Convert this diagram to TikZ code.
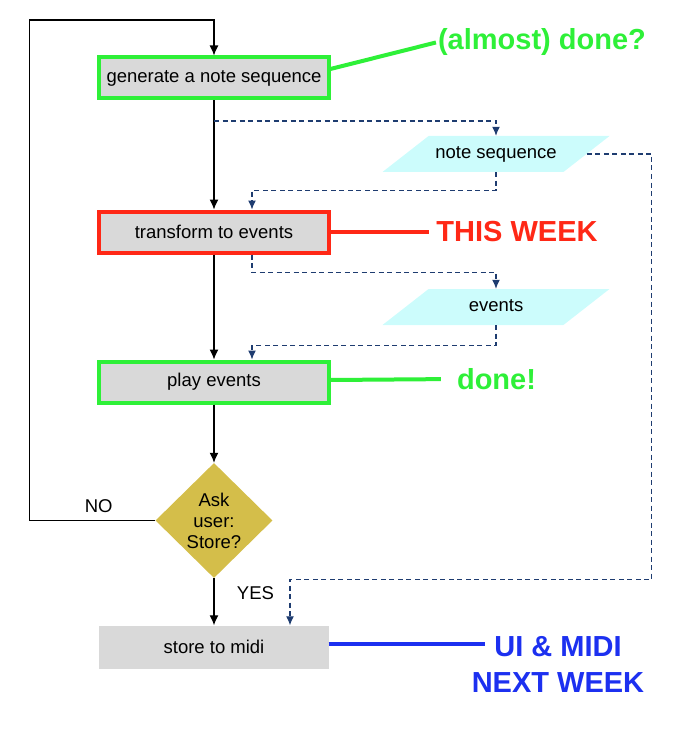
\documentclass[tikz,border=0pt]{standalone}
\usepackage{fontspec}
\setmainfont{Liberation Sans}
\usepackage{tikz}
\usetikzlibrary{shapes.geometric,arrows.meta,positioning}
\newcommand{\boxfont}{\fontsize{18.5pt}{21pt}\selectfont}
\newcommand{\remarkfont}{\bfseries\fontsize{29pt}{34pt}\selectfont}
\definecolor{donegreen}{RGB}{46, 240, 56}
\definecolor{weekred}{RGB}{255, 40, 22}
\definecolor{nextblue}{RGB}{28, 48, 240}
\definecolor{flowblue}{RGB}{30, 60, 112}
\definecolor{boxgray}{RGB}{217, 217, 217}
\definecolor{datacyan}{RGB}{204, 252, 252}
\definecolor{askgold}{RGB}{212, 190, 74}
\tikzstyle{stepbox} = [rectangle, fill=boxgray, text=black, text centered, font=\boxfont, minimum width=229pt, minimum height=41pt]
\tikzstyle{donebox} = [stepbox, draw=donegreen, line width=4pt]
\tikzstyle{weekbox} = [stepbox, draw=weekred, line width=4pt]
\tikzstyle{databox} = [trapezium, trapezium left angle=38, trapezium right angle=142, trapezium stretches body, fill=datacyan, text=black, font=\boxfont, minimum width=227pt, text height=13pt, text depth=4pt, inner ysep=9.5pt, inner xsep=0pt]
\tikzstyle{askbox} = [diamond, fill=askgold, text=black, align=center, font=\boxfont, minimum width=117pt, minimum height=115pt, inner sep=0pt]
\tikzstyle{textonly} = [draw=none, fill=none, text centered, font=\boxfont]
\tikzstyle{remark} = [draw=none, fill=none, inner sep=0pt, font=\remarkfont]
\tikzstyle{tedge}  = [draw, line width=1.2pt, >={Latex[length=10pt,width=9pt]}, ->]
\tikzstyle{dedge}  = [draw=flowblue, line width=1.2pt, dash pattern=on 5pt off 3.5pt, >={Latex[length=9pt,width=8pt]}, ->]
\tikzstyle{tagline} = [draw, line width=4pt]

\begin{document}
\begin{tikzpicture}[auto, on grid]
\useasboundingbox (-214pt,78pt) rectangle (470pt,-655pt);

% steps =============================
\node[donebox] (gen) {generate a note sequence};
\node[weekbox, below=154pt of gen] (trans) {transform to events};
\node[donebox, below=150pt of trans] (play) {play events};
\node[askbox, below=138.5pt of play] (ask) {Ask\\user:\\Store?};
\node[stepbox, minimum height=43pt, below=126.5pt of ask] (store) {store to midi};

% data =============================
\node[databox, below right=76pt and 282pt of gen] (notes) {note sequence};
\node[databox, below=153pt of notes] (events) {events};

% remarks
\node[remark, text=donegreen, above right=36pt and 328pt of gen] (almost) {(almost) done?};
\node[remark, text=weekred, right=303pt of trans] (thiswk) {THIS WEEK};
\node[remark, text=donegreen, above right=3pt and 282.5pt of play] (donelbl) {done!};
\node[remark, text=nextblue, right=344pt of store] (ui) {UI \& MIDI};
\node[remark, text=nextblue, below=36pt of ui] (nextwk) {NEXT WEEK};

\coordinate[left=184.5pt of ask] (noturn);
\coordinate[above=58pt of gen] (topturn);

% edges
\path[tedge] (gen) -- (trans);
\path[tedge] (trans) -- (play);
\path[tedge] (play) -- (ask);
\path[tedge] (ask) -- node[textonly, right=19pt, pos=0.32] {YES} (store);
\path[tedge] (ask.west) -- node[textonly, above=4pt, pos=0.45] {NO} (noturn) |- (topturn) -- (gen.north);

\path[dedge] ([yshift=-20.5pt]gen.south) -| (notes.north);
\path[dedge] (notes.south) -- ++(0,-18pt) -| ([xshift=38pt]trans.north);
\path[dedge] ([xshift=38pt]trans.south) -- ++(0,-18pt) -| (events.north);
\path[dedge] (events.south) -- ++(0,-20pt) -| ([xshift=38pt]play.north);
\path[dedge] (notes.right side) -- ++(65pt,0) |- ([xshift=76pt,yshift=46pt]store.north) -- ([xshift=76pt]store.north);

\path[tagline, donegreen, shorten >=2pt] ([yshift=9pt]gen.east) -- (almost.west);
\path[tagline, weekred, shorten >=7pt] (trans.east) -- (thiswk.west);
\path[tagline, donegreen, shorten >=16pt] ([yshift=2pt]play.east) -- (donelbl.west);
\path[tagline, nextblue, shorten >=9pt] ([yshift=3pt]store.east) -- ([yshift=3pt]ui.west);

\end{tikzpicture}
\end{document}
